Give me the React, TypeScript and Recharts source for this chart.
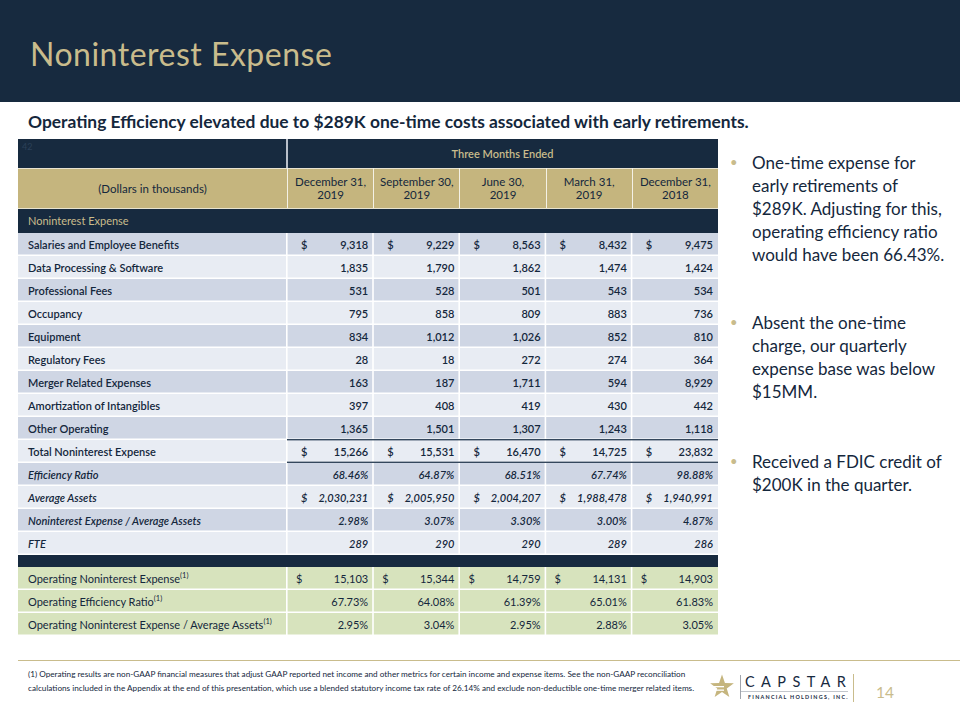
import { BarChart, Bar, XAxis, YAxis } from 'recharts';

const periods = [
  ['December 31,', '2019'],
  ['September 30,', '2019'],
  ['June 30,', '2019'],
  ['March 31,', '2019'],
  ['December 31,', '2018'],
];

const salaries = [9318, 9229, 8563, 8432, 9475];
const dataProcessing = [1835, 1790, 1862, 1474, 1424];
const professionalFees = [531, 528, 501, 543, 534];
const occupancy = [795, 858, 809, 883, 736];
const equipment = [834, 1012, 1026, 852, 810];
const regulatoryFees = [28, 18, 272, 274, 364];
const mergerRelated = [163, 187, 1711, 594, 8929];
const amortization = [397, 408, 419, 430, 442];
const otherOperating = [1365, 1501, 1307, 1243, 1118];
const totalExpense = [15266, 15531, 16470, 14725, 23832];
const efficiencyRatio = [68.46, 64.87, 68.51, 67.74, 98.88];
const averageAssets = [2030231, 2005950, 2004207, 1988478, 1940991];
const expenseToAssets = [2.98, 3.07, 3.3, 3.0, 4.87];
const fte = [289, 290, 290, 289, 286];
const operatingExpense = [15103, 15344, 14759, 14131, 14903];
const operatingEfficiency = [67.73, 64.08, 61.39, 65.01, 61.83];
const operatingExpenseToAssets = [2.95, 3.04, 2.95, 2.88, 3.05];

const bullets = [
  ['One-time expense for', 'early retirements of', '$289K. Adjusting for this,', 'operating efficiency ratio', 'would have been 66.43%.'],
  ['Absent the one-time', 'charge, our quarterly', 'expense base was below', '$15MM.'],
  ['Received a FDIC credit of', '$200K in the quarter.'],
];

const NAVY = '#172a3f';
const GOLD = '#c5b57e';
const TAN = '#c9bc8c';
const INK = '#14273c';
const SHADE_DARK = '#cfd6e4';
const SHADE_LIGHT = '#e8ecf3';
const GREEN = '#d7e3bd';
const FONT = 'Lato, "Open Sans", sans-serif';

type Kind = 'num' | 'pct';
interface Row {
  label: string;
  values: number[];
  kind: Kind;
  dollar?: boolean;
  italic?: boolean;
  total?: boolean;
  note?: boolean;
  fill: string;
  span: number;
}

const mk = (label: string, values: number[], kind: Kind, extra: Partial<Row> = {}) => ({
  label,
  values,
  kind,
  span: 1,
  fill: '',
  ...extra,
});

const mainRows: Row[] = [
  mk('Salaries and Employee Benefits', salaries, 'num', { dollar: true }),
  mk('Data Processing & Software', dataProcessing, 'num'),
  mk('Professional Fees', professionalFees, 'num'),
  mk('Occupancy', occupancy, 'num'),
  mk('Equipment', equipment, 'num'),
  mk('Regulatory Fees', regulatoryFees, 'num'),
  mk('Merger Related Expenses', mergerRelated, 'num'),
  mk('Amortization of Intangibles', amortization, 'num'),
  mk('Other Operating', otherOperating, 'num'),
  mk('Total Noninterest Expense', totalExpense, 'num', { dollar: true, total: true }),
  mk('Efficiency Ratio', efficiencyRatio, 'pct', { italic: true }),
  mk('Average Assets', averageAssets, 'num', { italic: true, dollar: true }),
  mk('Noninterest Expense / Average Assets', expenseToAssets, 'pct', { italic: true }),
  mk('FTE', fte, 'num', { italic: true }),
].map((r, i) => ({ ...r, fill: i % 2 === 0 ? SHADE_DARK : SHADE_LIGHT }));

const operatingRows: Row[] = [
  mk('Operating Noninterest Expense', operatingExpense, 'num', { dollar: true, note: true }),
  mk('Operating Efficiency Ratio', operatingEfficiency, 'pct', { note: true }),
  mk('Operating Noninterest Expense / Average Assets', operatingExpenseToAssets, 'pct', { note: true }),
].map((r) => ({ ...r, fill: GREEN }));

const LABEL_W = 269;
const TXT = 11;

const fmt = (v: number, kind: Kind) =>
  kind === 'pct' ? `${v.toFixed(2)}%` : v.toLocaleString('en-US');

function RowShape(props: any) {
  const { x, y, width, height } = props;
  const row: Row = props.payload ?? props;
  const dataW = (width - LABEL_W) / 5;
  const cy = y + height / 2;
  const green = row.fill === GREEN;
  const weight = green ? 400 : 600;
  const style = row.italic ? 'italic' : 'normal';
  return (
    <g>
      <rect x={x} y={y} width={width} height={height} fill={row.fill} />
      <rect x={x} y={y + height - 1.5} width={width} height={1.5} fill="#ffffff" />
      {[0, 1, 2, 3, 4].map((c) => (
        <rect key={c} x={x + LABEL_W + c * dataW - 1} y={y} width={1.6} height={height} fill="#ffffff" />
      ))}
      {row.total && (
        <>
          <rect x={x + LABEL_W} y={y - 1} width={width - LABEL_W} height={1.4} fill="#34475c" />
          <rect x={x + LABEL_W} y={y + height - 1.4} width={width - LABEL_W} height={1.4} fill="#34475c" />
        </>
      )}
      <text x={x + 10} y={cy} dominantBaseline="central" fontSize={TXT} fontWeight={weight} fontStyle={style} fill={INK} fontFamily={FONT}>
        {row.label}
        {row.note && (
          <tspan dy={-4} fontSize={7.5}>(1)</tspan>
        )}
      </text>
      {row.values.map((v, c) => {
        const left = x + LABEL_W + c * dataW;
        const right = left + dataW;
        return (
          <g key={c}>
            {row.dollar && (
              <text x={left + (green ? 9 : 14)} y={cy} dominantBaseline="central" fontSize={TXT} fontWeight={weight} fontStyle={style} fill={INK} fontFamily={FONT}>
                $
              </text>
            )}
            <text x={right - 5} y={cy} textAnchor="end" dominantBaseline="central" fontSize={TXT} fontWeight={weight} fontStyle={style} fill={INK} fontFamily={FONT}>
              {fmt(v, row.kind)}
            </text>
          </g>
        );
      })}
    </g>
  );
}

function RowTable({ rows, height }: { rows: Row[]; height: number }) {
  return (
    <BarChart
      width={700}
      height={height}
      data={rows}
      layout="vertical"
      margin={{ top: 0, right: 0, bottom: 0, left: 0 }}
      barCategoryGap={0}
    >
      <XAxis type="number" domain={[0, 1]} hide />
      <YAxis type="category" dataKey="label" hide />
      <Bar dataKey="span" shape={RowShape} isAnimationActive={false} />
    </BarChart>
  );
}

function Logo() {
  // star centred at (17, 23)
  const pts: string[] = [];
  for (let i = 0; i < 10; i++) {
    const r = i % 2 === 0 ? 12.5 : 5;
    const a = -Math.PI / 2 + (i * Math.PI) / 5;
    pts.push(`${17 + r * Math.cos(a)},${23 + r * Math.sin(a)}`);
  }
  return (
    <svg width={160} height={44} style={{ position: 'absolute', left: 705, top: 664 }}>
      <polygon points={pts.join(' ')} fill={GOLD} />
      <rect x={3} y={22} width={16} height={1.3} fill="#ffffff" />
      <rect x={6} y={25.5} width={13} height={1.3} fill="#ffffff" />
      <rect x={35} y={11} width={0.8} height={24} fill="#8a8f99" />
      <text x={40} y={23} fontSize={14.5} fontFamily={FONT} fill={NAVY} letterSpacing={6.4}>
        CAPSTAR
      </text>
      <rect x={35} y={27} width={108} height={0.6} fill="#9aa0aa" />
      <text x={43} y={35} fontSize={5.4} fontWeight={700} fontFamily={FONT} fill={NAVY} letterSpacing={1.25}>
        FINANCIAL HOLDINGS, INC.
      </text>
      <rect x={148} y={10} width={1} height={28} fill={TAN} />
    </svg>
  );
}

export default function App() {
  const colLefts = [0, 1, 2, 3, 4].map((c) => 287 + (c * (718 - 287)) / 5);
  const colW = (718 - 287) / 5;
  return (
    <div style={{ position: 'absolute', left: 0, top: 0, width: 960, height: 720, background: '#ffffff', fontFamily: FONT, overflow: 'hidden' }}>
      <div style={{ position: 'absolute', left: 0, top: 0, width: 960, height: 102, background: NAVY }} />
      <div style={{ position: 'absolute', left: 30, top: 32, fontSize: 32, color: TAN, letterSpacing: 0.5, lineHeight: '44px' }}>
        Noninterest Expense
      </div>
      <div style={{ position: 'absolute', left: 28, top: 111, fontSize: 17.4, fontWeight: 700, color: INK, lineHeight: '22px', whiteSpace: 'nowrap' }}>
        Operating Efficiency elevated due to $289K one-time costs associated with early retirements.
      </div>

      {/* table header */}
      <div style={{ position: 'absolute', left: 18, top: 139, width: 700, height: 29, background: NAVY }} />
      <div style={{ position: 'absolute', left: 22, top: 141, fontSize: 9, color: '#2b4058' }}>42</div>
      <div style={{ position: 'absolute', left: 287, top: 139, width: 431, height: 29, lineHeight: '29px', textAlign: 'center', fontSize: 11, fontWeight: 600, color: TAN }}>
        Three Months Ended
      </div>
      <div style={{ position: 'absolute', left: 286, top: 139, width: 1.5, height: 69, background: '#b9c0ca' }} />
      <div style={{ position: 'absolute', left: 18, top: 168, width: 700, height: 40, background: GOLD, borderTop: '1.5px solid #e8e3cf', boxSizing: 'border-box' }} />
      <div style={{ position: 'absolute', left: 18, top: 168, width: 269, height: 40, display: 'flex', alignItems: 'center', justifyContent: 'center', fontSize: 11.5, color: INK }}>
        (Dollars in thousands)
      </div>
      {periods.map((p, c) => (
        <div key={c} style={{ position: 'absolute', left: colLefts[c], top: 168, width: colW, height: 40, display: 'flex', flexDirection: 'column', alignItems: 'center', justifyContent: 'center', fontSize: 11.5, lineHeight: '13px', color: INK, borderLeft: '1.6px solid #f4f1e6', boxSizing: 'border-box' }}>
          <span>{p[0]}</span>
          <span>{p[1]}</span>
        </div>
      ))}
      <div style={{ position: 'absolute', left: 18, top: 208, width: 700, height: 25, background: NAVY, borderTop: '1.5px solid #e8e3cf', boxSizing: 'border-box' }} />
      <div style={{ position: 'absolute', left: 28, top: 208, height: 25, lineHeight: '25px', fontSize: 11, color: TAN }}>
        Noninterest Expense
      </div>

      <div style={{ position: 'absolute', left: 18, top: 233 }}>
        <RowTable rows={mainRows} height={322} />
      </div>
      <div style={{ position: 'absolute', left: 18, top: 555, width: 700, height: 12, background: NAVY }} />
      <div style={{ position: 'absolute', left: 18, top: 567 }}>
        <RowTable rows={operatingRows} height={69} />
      </div>

      {/* bullets */}
      {bullets.map((lines, b) => (
        <div key={b} style={{ position: 'absolute', left: 730, top: [151, 311, 450][b], width: 225 }}>
          <div style={{ position: 'absolute', left: 0, top: 0, fontSize: 13, lineHeight: '23px', color: TAN }}>•</div>
          <div style={{ position: 'absolute', left: 22, top: 0, fontSize: 17, lineHeight: '23px', color: INK, whiteSpace: 'nowrap' }}>
            {lines.map((l, i) => (
              <div key={i}>{l}</div>
            ))}
          </div>
        </div>
      ))}

      {/* footer */}
      <div style={{ position: 'absolute', left: 18, top: 660, width: 942, height: 1, background: TAN }} />
      <div style={{ position: 'absolute', left: 28, top: 667, fontSize: 8.2, lineHeight: '14px', color: INK, whiteSpace: 'nowrap' }}>
        <div>(1) Operating results are non-GAAP financial measures that adjust GAAP reported net income and other metrics for certain income and expense items. See the non-GAAP reconciliation</div>
        <div>calculations included in the Appendix at the end of this presentation, which use a blended statutory income tax rate of 26.14% and exclude non-deductible one-time merger related items.</div>
      </div>
      <Logo />
      <div style={{ position: 'absolute', left: 876, top: 682, fontSize: 15.5, color: TAN, lineHeight: '20px' }}>14</div>
    </div>
  );
}
